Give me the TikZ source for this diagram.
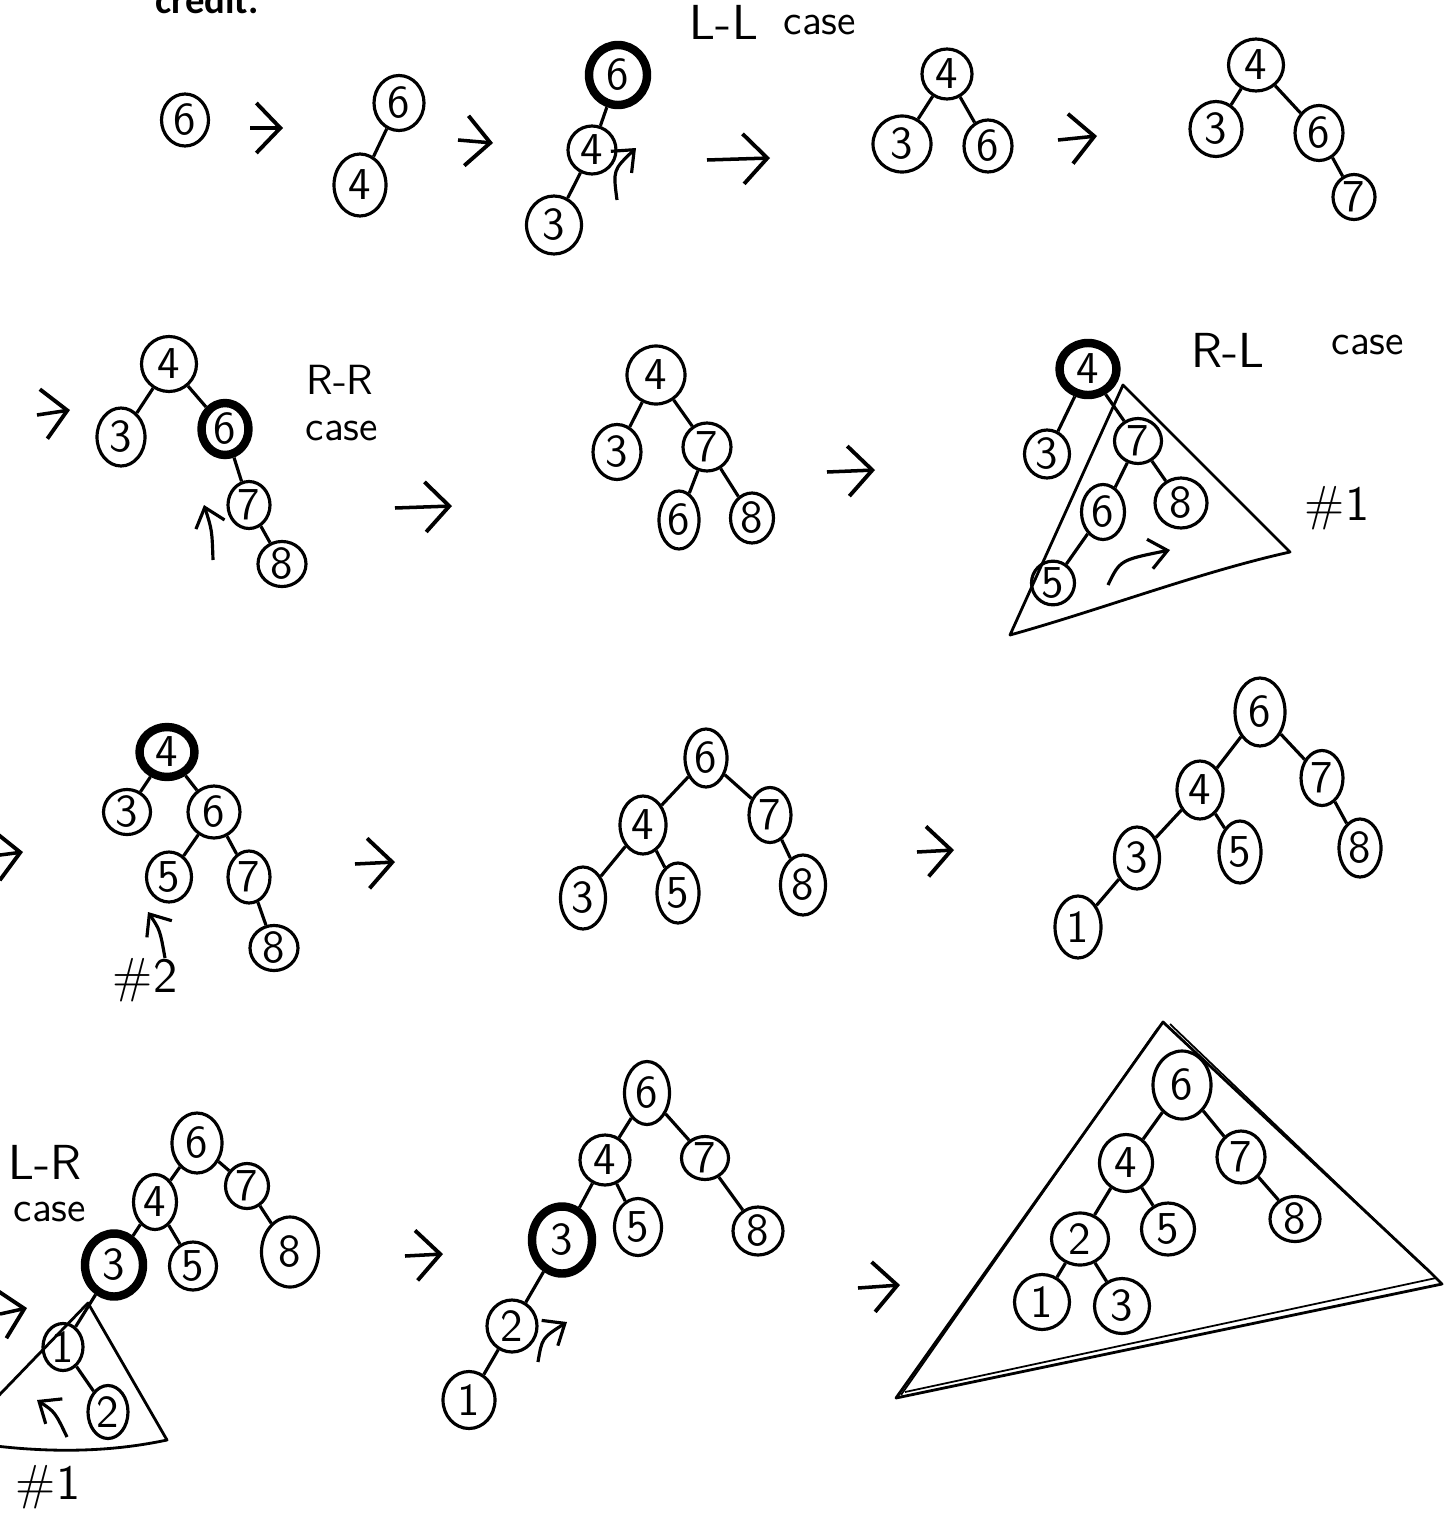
\documentclass[tikz,border=0pt]{standalone}
\usepackage{fontspec}
\newfontfamily\credfont{Carlito}
\usetikzlibrary{shapes.geometric,arrows.meta}
\tikzset{
  nd/.style 2 args={ellipse,draw,line width=0.9pt,inner sep=0pt,
    minimum width=#1*0.01cm,minimum height=#2*0.01cm,
    font=\sffamily\fontsize{13}{15}\selectfont},
  bnd/.style 2 args={nd={#1}{#2},line width=2.4pt},
  edge/.style={line width=0.9pt},
  trans/.style={line width=1pt,-{Straight Barb[length=2.4mm,width=5mm,line width=1.1pt]}},
  rot/.style={line width=0.9pt,-{Straight Barb[length=1.8mm,width=3mm]}},
  lbl/.style={font=\sffamily\fontsize{14}{16}\selectfont,inner sep=0pt},
  slbl/.style={font=\sffamily\fontsize{12}{14}\selectfont,inner sep=0pt},
  tri/.style={line width=0.8pt,line join=round},
}
\begin{document}
\begin{tikzpicture}[x=0.01cm,y=-0.01cm]
\fill[white] (0,0) rectangle (1453,1521);
\useasboundingbox (0,0) rectangle (1453,1521);
\node[anchor=base west,inner sep=0pt,font=\credfont\bfseries\fontsize{11}{13}\selectfont] (cr) at (155,13) {credit.};

% ---------- row 1 ----------
\node[nd={47}{52}] (a6) at (185,120) {6};
\coordinate (t1s) at (250,128); \coordinate (t1e) at (283,128);
\draw[trans] (t1s) -- (t1e);

\node[nd={50}{55}] (b6) at (399,103) {6};
\node[nd={52}{62}] (b4) at (360,185) {4};
\coordinate (t2s) at (458,140); \coordinate (t2e) at (493,143);
\draw[trans] (t2s) -- (t2e);

\node[bnd={58}{60}] (c6) at (618,75) {6};
\node[nd={48}{48}] (c4) at (592,150) {4};
\node[nd={55}{58}] (c3) at (554,225) {3};
\coordinate (r1s) at (617,200); \coordinate (r1e) at (636,148);
\draw[rot] (r1s) .. controls (613,170) .. (r1e);
\coordinate (t3s) at (707,160); \coordinate (t3e) at (770,158);
\draw[trans] (t3s) -- (t3e);
\node[lbl] (ll) at (724,22) {L-L};
\node[slbl] (llc) at (820,25) {case};

\node[nd={50}{50}] (d4) at (947,74) {4};
\node[nd={58}{56}] (d3) at (902,144) {3};
\node[nd={48}{52}] (d6) at (988,146) {6};
\coordinate (t4s) at (1058,140); \coordinate (t4e) at (1097,136);
\draw[trans] (t4s) -- (t4e);

\node[nd={55}{52}] (e4) at (1256,65) {4};
\node[nd={52}{55}] (e3) at (1216,129) {3};
\node[nd={48}{55}] (e6) at (1319,133) {6};
\node[nd={42}{45}] (e7) at (1354,197) {7};

% ---------- row 2 ----------
\coordinate (t5s) at (37,415); \coordinate (t5e) at (70,410);
\draw[trans] (t5s) -- (t5e);
\node[nd={55}{55}] (f4) at (169,364) {4};
\node[nd={48}{58}] (f3) at (121,437) {3};
\node[bnd={47}{52}] (f6) at (225,429) {6};
\node[nd={42}{47}] (f7) at (249,505) {7};
\node[nd={48}{45}] (f8) at (282,564) {8};
\coordinate (r2s) at (213,560); \coordinate (r2e) at (204,505);
\draw[rot] (r2s) .. controls (212,530) .. (r2e);
\node[slbl] (rr) at (340,380) {R-R};
\node[slbl] (rrc) at (342,431) {case};
\coordinate (t6s) at (395,508); \coordinate (t6e) at (452,506);
\draw[trans] (t6s) -- (t6e);

\node[nd={58}{58}] (g4) at (656,375) {4};
\node[nd={48}{55}] (g3) at (617,452) {3};
\node[nd={48}{48}] (g7) at (707,447) {7};
\node[nd={40}{58}] (g6) at (679,520) {6};
\node[nd={43}{50}] (g8) at (752,518) {8};
\coordinate (t7s) at (827,472); \coordinate (t7e) at (875,470);
\draw[trans] (t7s) -- (t7e);

\coordinate (p1) at (1123,385); \coordinate (p2) at (1290,552); \coordinate (p3) at (1010,635);
\draw[tri] (p1) -- (p2) .. controls (1200,572) and (1100,610) .. (p3) -- cycle;
\node[bnd={57}{52}] (h4) at (1088,369) {4};
\node[nd={45}{48}] (h3) at (1047,454) {3};
\node[nd={47}{45}] (h7) at (1138,441) {7};
\node[nd={43}{55}] (h6) at (1103,512) {6};
\node[nd={52}{50}] (h8) at (1181,503) {8};
\node[nd={43}{43}] (h5) at (1053,583) {5};
\coordinate (r3s) at (1108,585); \coordinate (r3e) at (1170,550);
\draw[rot] (r3s) .. controls (1120,560) .. (r3e);
\node[lbl] (rl) at (1228,350) {R-L};
\node[slbl] (rlc) at (1368,345) {case};
\node[lbl] (h1) at (1337,508) {\#1};

% ---------- row 3 ----------
\coordinate (t8s) at (0,855); \coordinate (t8e) at (23,852);
\draw[trans] (t8s) -- (t8e);
\node[bnd={55}{50}] (i4) at (167,752) {4};
\node[nd={47}{45}] (i3) at (127,812) {3};
\node[nd={52}{52}] (i6) at (214,812) {6};
\node[nd={45}{50}] (i5) at (169,877) {5};
\node[nd={42}{52}] (i7) at (249,877) {7};
\node[nd={48}{42}] (i8) at (274,948) {8};
\coordinate (r4s) at (165,958); \coordinate (r4e) at (148,912);
\draw[rot] (r4s) .. controls (160,930) .. (r4e);
\node[lbl] (h2) at (145,980) {\#2};
\coordinate (t9s) at (355,864); \coordinate (t9e) at (395,862);
\draw[trans] (t9s) -- (t9e);

\node[nd={42}{58}] (j6) at (706,758) {6};
\node[nd={46}{58}] (j4) at (643,825) {4};
\node[nd={42}{55}] (j7) at (770,815) {7};
\node[nd={45}{62}] (j3) at (583,898) {3};
\node[nd={42}{60}] (j5) at (678,893) {5};
\node[nd={45}{60}] (j8) at (803,885) {8};
\coordinate (t10s) at (917,852); \coordinate (t10e) at (954,850);
\draw[trans] (t10s) -- (t10e);

\node[nd={50}{68}] (k6) at (1260,712) {6};
\node[nd={46}{58}] (k4) at (1200,790) {4};
\node[nd={42}{55}] (k7) at (1322,778) {7};
\node[nd={45}{62}] (k3) at (1137,858) {3};
\node[nd={42}{62}] (k5) at (1240,852) {5};
\node[nd={42}{58}] (k8) at (1360,848) {8};
\node[nd={46}{62}] (k1) at (1078,927) {1};

% ---------- row 4 ----------
\node[lbl] (lr) at (45,1162) {L-R};
\node[slbl] (lrc) at (50,1212) {case};
\node[nd={50}{60}] (l6) at (197,1143) {6};
\node[nd={43}{55}] (l4) at (155,1202) {4};
\node[nd={43}{45}] (l7) at (247,1186) {7};
\node[bnd={58}{63}] (l3) at (114,1265) {3};
\node[nd={47}{48}] (l5) at (193,1266) {5};
\node[nd={57}{70}] (l8) at (290,1252) {8};
\coordinate (t11s) at (0,1314); \coordinate (t11e) at (27,1308);
\draw[trans] (t11s) -- (t11e);
\coordinate (q1) at (88,1303); \coordinate (q2) at (167,1440); \coordinate (q3) at (-20,1444); \coordinate (q4) at (-20,1415);
\draw[tri] (q4) -- (q1) -- (q2) .. controls (120,1450) and (60,1455) .. (q3);
\node[nd={40}{47}] (l1) at (63,1347) {1};
\node[nd={40}{53}] (l2) at (108,1412) {2};
\coordinate (r5s) at (67,1437); \coordinate (r5e) at (37,1400);
\draw[rot] (r5s) .. controls (55,1412) .. (r5e);
\node[lbl] (h3l) at (48,1487) {\#1};
\coordinate (t12s) at (405,1256); \coordinate (t12e) at (443,1254);
\draw[trans] (t12s) -- (t12e);

\node[nd={45}{63}] (m6) at (647,1093) {6};
\node[nd={50}{50}] (m4) at (605,1160) {4};
\node[nd={47}{43}] (m7) at (705,1158) {7};
\node[bnd={60}{67}] (m3) at (562,1240) {3};
\node[nd={47}{57}] (m5) at (638,1227) {5};
\node[nd={50}{48}] (m8) at (758,1231) {8};
\node[nd={50}{52}] (m2) at (512,1326) {2};
\node[nd={52}{57}] (m1) at (469,1400) {1};
\coordinate (r6s) at (538,1362); \coordinate (r6e) at (567,1322);
\draw[rot] (r6s) .. controls (542,1338) .. (r6e);
\coordinate (t13s) at (858,1288); \coordinate (t13e) at (900,1285);
\draw[trans] (t13s) -- (t13e);

\coordinate (s1) at (1163,1022); \coordinate (s2) at (1430,1272); \coordinate (s3) at (896,1398); \coordinate (s4) at (1442,1284);
\draw[tri] (s1) -- (s2) -- (s4) -- (s3) -- cycle;
\draw[tri,line width=0.5pt] (1158,1028) -- (901,1395);
\draw[tri,line width=0.5pt] (1170,1024) -- (1425,1268);
\draw[tri,line width=0.5pt] (905,1392) -- (1436,1278);
\node[nd={58}{68}] (n6) at (1182,1085) {6};
\node[nd={53}{57}] (n4) at (1126,1163) {4};
\node[nd={48}{52}] (n7) at (1241,1157) {7};
\node[nd={57}{52}] (n2) at (1080,1239) {2};
\node[nd={53}{52}] (n5) at (1168,1229) {5};
\node[nd={50}{45}] (n8) at (1295,1219) {8};
\node[nd={55}{55}] (n1) at (1042,1302) {1};
\node[nd={55}{55}] (n3) at (1122,1306) {3};

% ---------- edges ----------
\foreach \p/\c in {b6/b4, c6/c4, c4/c3, d4/d3, d4/d6, e4/e3, e4/e6, e6/e7,
  f4/f3, f4/f6, f6/f7, f7/f8, g4/g3, g4/g7, g7/g6, g7/g8,
  h4/h3, h4/h7, h7/h6, h7/h8, h6/h5,
  i4/i3, i4/i6, i6/i5, i6/i7, i7/i8,
  j6/j4, j6/j7, j4/j3, j4/j5, j7/j8,
  k6/k4, k6/k7, k4/k3, k4/k5, k7/k8, k3/k1,
  l6/l4, l6/l7, l4/l3, l4/l5, l7/l8, l3/l1, l1/l2,
  m6/m4, m6/m7, m4/m3, m4/m5, m7/m8, m3/m2, m2/m1,
  n6/n4, n6/n7, n4/n2, n4/n5, n7/n8, n2/n1, n2/n3}
  \draw[edge] (\p) -- (\c);
\end{tikzpicture}
\end{document}
